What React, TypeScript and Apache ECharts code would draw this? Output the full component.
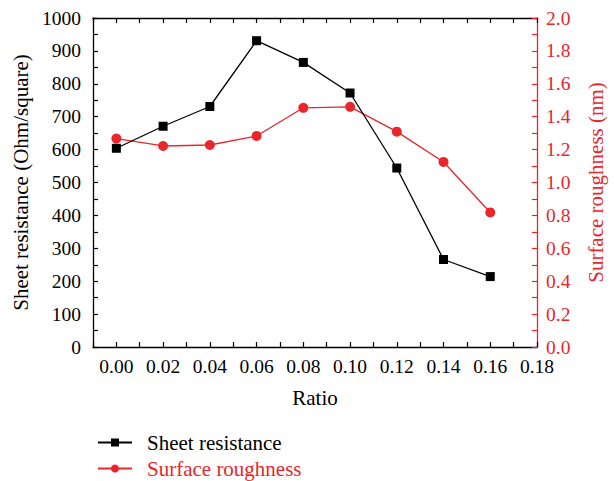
import React, { useEffect, useRef } from "react";
import * as echarts from "echarts";

const ratios = [0.0, 0.02, 0.04, 0.06, 0.08, 0.1, 0.12, 0.14, 0.16];
const sheetResistance = [604, 671, 731, 931, 865, 772, 544, 266, 214];
const surfaceRoughness = [1.267, 1.222, 1.228, 1.283, 1.454, 1.46, 1.309, 1.125, 0.818];

const RED = "#e8262b";
const FONT = "Liberation Serif";
const TICK_FS = 19.5;
const NAME_FS = 21;

export default function App() {
  const ref = useRef<HTMLDivElement>(null);
  useEffect(() => {
    if (!ref.current) return;
    const chart = echarts.init(ref.current, undefined, { renderer: "svg" });
    const tickCommon = { show: true, inside: true, length: 5, lineStyle: { width: 1.2 } };
    chart.setOption({
      animation: false,
      backgroundColor: "#fff",
      grid: { left: 93, right: 74, top: 18, bottom: 134, containLabel: false },
      legend: {
        orient: "vertical",
        left: 92,
        top: 427,
        height: 54,
        itemWidth: 34,
        itemHeight: 10,
        itemGap: 5,
        data: [
          { name: "Sheet resistance", textStyle: { color: "#000" } },
          { name: "Surface roughness", textStyle: { color: RED } },
        ],
        textStyle: { fontFamily: FONT, fontSize: NAME_FS, padding: [0, 0, 0, 10] },
      },
      xAxis: [
        {
          type: "value",
          min: -0.01,
          max: 0.18,
          interval: 0.01,
          name: "Ratio",
          nameLocation: "middle",
          nameGap: 40,
          nameTextStyle: { fontFamily: FONT, fontSize: NAME_FS, color: "#000" },
          axisLine: { show: true, onZero: false, lineStyle: { color: "#000", width: 1.3 } },
          axisTick: tickCommon,
          splitLine: { show: false },
          axisLabel: {
            fontFamily: FONT,
            fontSize: TICK_FS,
            color: "#000",
            margin: 9,
            showMinLabel: true,
            showMaxLabel: true,
            formatter: (v: number) => {
              const k = Math.round(v * 100);
              if (k < 0 || k % 2 !== 0) return "";
              return (k / 100).toFixed(2);
            },
          },
        },
        {
          type: "value",
          position: "top",
          min: -0.01,
          max: 0.18,
          interval: 0.01,
          axisLine: { show: true, onZero: false, lineStyle: { color: "#000", width: 1.3 } },
          axisTick: tickCommon,
          axisLabel: { show: false },
          splitLine: { show: false },
        },
      ],
      yAxis: [
        {
          type: "value",
          position: "left",
          min: 0,
          max: 1000,
          interval: 50,
          name: "Sheet resistance (Ohm/square)",
          nameLocation: "middle",
          nameGap: 60,
          nameTextStyle: { fontFamily: FONT, fontSize: NAME_FS, color: "#000" },
          axisLine: { show: true, onZero: false, lineStyle: { color: "#000", width: 1.3 } },
          axisTick: tickCommon,
          splitLine: { show: false },
          axisLabel: {
            fontFamily: FONT,
            fontSize: TICK_FS,
            color: "#000",
            margin: 12,
            formatter: (v: number) => (Math.round(v) % 100 === 0 ? String(Math.round(v)) : ""),
          },
        },
        {
          type: "value",
          position: "right",
          min: 0,
          max: 2,
          interval: 0.1,
          name: "Surface roughness (nm)",
          nameLocation: "middle",
          nameGap: 48,
          nameRotate: 90,
          nameTextStyle: { fontFamily: FONT, fontSize: NAME_FS, color: RED },
          axisLine: { show: true, onZero: false, lineStyle: { color: RED, width: 1.3 } },
          axisTick: { ...tickCommon, lineStyle: { color: RED, width: 1.2 } },
          splitLine: { show: false },
          axisLabel: {
            fontFamily: FONT,
            fontSize: TICK_FS,
            color: RED,
            margin: 9,
            formatter: (v: number) => {
              const k = Math.round(v * 10);
              return k % 2 === 0 ? (k / 10).toFixed(1) : "";
            },
          },
        },
      ],
      series: [
        {
          name: "Sheet resistance",
          type: "line",
          xAxisIndex: 0,
          yAxisIndex: 0,
          data: ratios.map((r, i) => [r, sheetResistance[i]]),
          symbol: "rect",
          symbolSize: 9,
          itemStyle: { color: "#000" },
          lineStyle: { color: "#000", width: 1.3 },
          z: 3,
        },
        {
          name: "Surface roughness",
          type: "line",
          xAxisIndex: 0,
          yAxisIndex: 1,
          data: ratios.map((r, i) => [r, surfaceRoughness[i]]),
          symbol: "circle",
          symbolSize: 10,
          itemStyle: { color: RED },
          lineStyle: { color: RED, width: 1.3 },
          z: 2,
        },
      ],
    });
    return () => chart.dispose();
  }, []);
  return (
    <div
      ref={ref}
      style={{ position: "fixed", left: 0, top: 0, width: 614, height: 481 }}
    />
  );
}
